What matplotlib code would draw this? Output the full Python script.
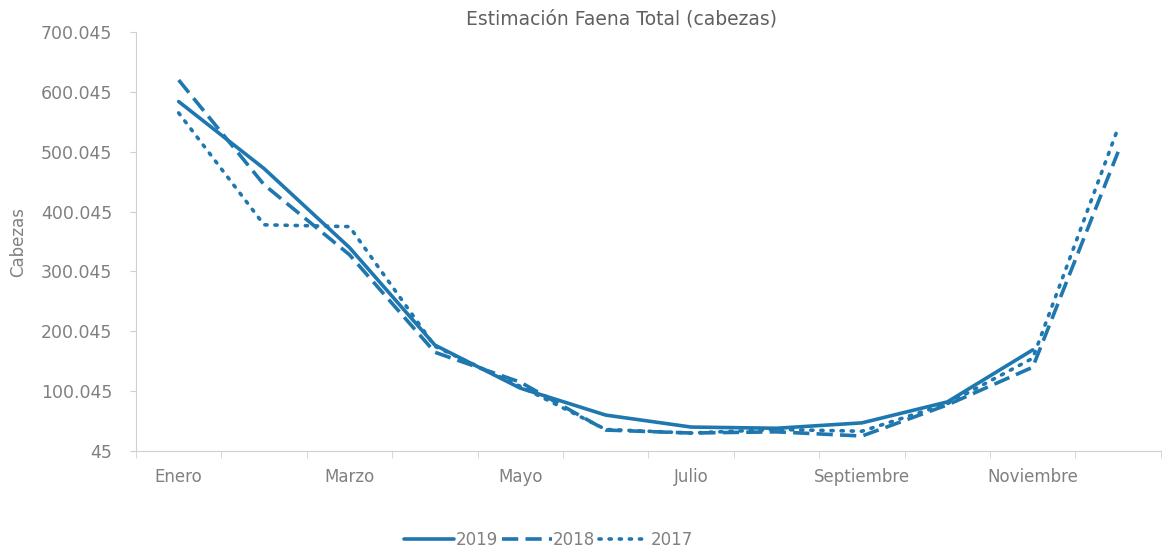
import numpy as np
import matplotlib
matplotlib.use("Agg")
import matplotlib.pyplot as plt
from matplotlib.ticker import FuncFormatter, MultipleLocator

# datos (cabezas)
meses = ["Enero", "Febrero", "Marzo", "Abril", "Mayo", "Junio", "Julio",
         "Agosto", "Septiembre", "Octubre", "Noviembre", "Diciembre"]
faena_2019 = [584000, 472000, 340000, 177000, 105000, 60000, 40000,
              38000, 47000, 82000, 169000]
faena_2018 = [620000, 445000, 328000, 165000, 115000, 35000, 30000,
              32000, 25000, 77000, 140000, 500000]
faena_2017 = [565000, 378000, 375000, 175000, 108000, 36000, 30000,
              36000, 33000, 79000, 155000, 540000]
years = ["2019", "2018", "2017"]

color = "#1f77b0"
gris = "#808080"

fig = plt.figure(figsize=(11.62, 5.54), dpi=100)
ax = fig.add_axes([0.117, 0.186, 0.882, 0.756])

x = np.arange(len(meses))
ax.plot(x[:len(faena_2019)], faena_2019, color=color, lw=2.6,
        solid_capstyle="round", label=years[0])
ax.plot(x[:len(faena_2018)], faena_2018, color=color, lw=2.6,
        linestyle=(0, (4.5, 2)), label=years[1])
ax.plot(x[:len(faena_2017)], faena_2017, color=color, lw=2.6,
        linestyle=(0, (0.6, 2.2)), dash_capstyle="round", label=years[2])

ax.set_xlim(-0.5, len(meses) - 0.5)
ax.set_ylim(45, 700045)
ax.set_yticks(np.arange(45, 700046, 100000))
ax.yaxis.set_major_formatter(FuncFormatter(lambda v, p: f"{int(round(v)):,}".replace(",", ".")))

ax.set_xticks(x[::2])
ax.set_xticklabels(meses[::2])
ax.xaxis.set_minor_locator(MultipleLocator(1, offset=0.5))
ax.tick_params(axis="x", which="major", length=0, pad=12, labelsize=12, labelcolor=gris)
ax.tick_params(axis="x", which="minor", length=5, color="#d0d0d0")
ax.tick_params(axis="y", length=4, color="#d0d0d0", labelsize=12.5, labelcolor=gris, pad=13)

for s in ["top", "right"]:
    ax.spines[s].set_visible(False)
ax.spines["left"].set_color("#d0d0d0")
ax.spines["bottom"].set_color("#d0d0d0")

ax.set_ylabel("Cabezas", color=gris, fontsize=12, labelpad=10)
fig.text(0.535, 0.955, "Estimación Faena Total (cabezas)", ha="center",
         color="#606060", fontsize=13.5)

fig.legend(loc="center", bbox_to_anchor=(0.472, 0.025), ncol=3, frameon=False,
           fontsize=12, labelcolor=gris, handlelength=3.0, handletextpad=0.1,
           columnspacing=0.2)

fig.savefig("out.png", dpi=100)
